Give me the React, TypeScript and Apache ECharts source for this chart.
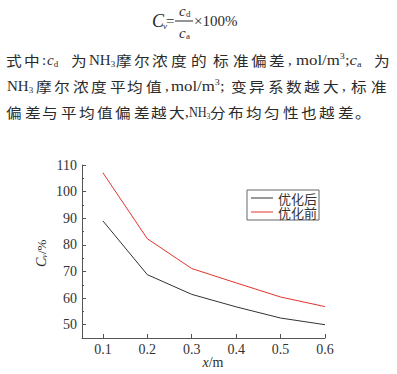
import React, { useEffect, useRef } from 'react';
import * as echarts from 'echarts';

// ---- data ----
const xValues = [0.1, 0.2, 0.3, 0.4, 0.5, 0.6];
const afterValues = [89.0, 68.8, 61.4, 56.7, 52.5, 50.0];
const beforeValues = [107.1, 82.3, 71.1, 65.7, 60.4, 56.8];
const seriesNames = ['优化后', '优化前'];
const seriesColors = ['#333333', '#e3342f'];
const yTickValues = [50, 60, 70, 80, 90, 100, 110];
const yMinorTickValues = [55, 65, 75, 85, 95, 105];

const SERIF = 'Liberation Serif';
const CJK = 'Noto Sans CJK SC';
const TEXT = '#2b2b2b';

// text tokens: [text, x, kind]  c=CJK, l=latin stretched, n=latin normal, m=latin condensed (rich: i=italic, s=sub, p=sup)
type Tok = [string, number, string];
const bodyLine1: Tok[] = [
  ['式', 7, 'c'], ['中', 25, 'c'], [':', 42, 'n'], ['{i|c}{s|d}', 47, 'n'],
  ['为', 72, 'c'], ['NH{s|3}', 89, 'n'], ['摩', 117, 'c'], ['尔', 135, 'c'],
  ['浓', 153, 'c'], ['度', 172, 'c'], ['的', 192, 'c'], ['标', 214, 'c'], ['准', 234, 'c'],
  ['偏', 252, 'c'], ['差', 270, 'c'], [',', 288, 'n'], ['mol/m{p|3};{i|c}{s|a}', 296, 'l'],
  ['为', 375, 'c'],
];
const bodyLine2: Tok[] = [
  ['NH{s|3}', 7, 'n'], ['摩', 37, 'c'], ['尔', 55, 'c'], ['浓', 74, 'c'],
  ['度', 92, 'c'], ['平', 111, 'c'], ['均', 128, 'c'], ['值', 147, 'c'], [',', 165, 'n'],
  ['mol/m{p|3};', 171, 'l'], ['变', 232, 'c'], ['异', 250, 'c'],
  ['系', 269, 'c'], ['数', 287, 'c'], ['越', 305, 'c'], ['大', 324, 'c'], [',', 342, 'n'],
  ['标', 352, 'c'], ['准', 372, 'c'],
];
const bodyLine3: Tok[] = [
  ['偏', 7, 'c'], ['差', 26, 'c'], ['与', 43, 'c'], ['平', 62, 'c'], ['均', 80, 'c'],
  ['值', 98, 'c'], ['偏', 116, 'c'], ['差', 135, 'c'], ['越', 152, 'c'], ['大', 170, 'c'],
  [',', 185, 'n'], ['NH{s|3}', 189, 'm'], ['分', 211, 'c'], ['布', 229, 'c'],
  ['均', 247, 'c'], ['匀', 265, 'c'], ['性', 284, 'c'], ['也', 302, 'c'], ['越', 320, 'c'],
  ['差', 339, 'c'], ['。', 356, 'c'],
];
const bodyLines: [Tok[], number][] = [[bodyLine1, 60], [bodyLine2, 86], [bodyLine3, 112]];

const richLatin = {
  i: { fontFamily: SERIF, fontSize: 15, fontStyle: 'italic', fill: TEXT },
  s: { fontFamily: SERIF, fontSize: 9, fill: TEXT, padding: [8, 0, 0, 0] },
  p: { fontFamily: SERIF, fontSize: 9, fill: TEXT, padding: [0, 0, 8, 0] },
};

function tokenEl(t: string, x: number, kind: string, y: number): any {
  const style: any = { text: t, fill: TEXT, verticalAlign: 'middle', textVerticalAlign: 'middle', align: 'left' };
  let xx = x;
  let sx = 1.12;
  if (kind === 'c') { style.fontFamily = CJK; style.fontSize = 14; xx = x - 1; }
  else {
    style.fontFamily = SERIF;
    style.fontSize = 15;
    style.rich = richLatin;
    if (kind === 'm') sx = 0.82;
    else if (kind !== 'l') sx = 1;
  }
  return { type: 'text', x: xx, y, scaleX: sx, silent: true, style };
}

function buildGraphic(): any[] {
  const els: any[] = [];
  bodyLines.forEach(([toks, y]) => toks.forEach(([t, x, k]) => els.push(tokenEl(t, x, k, y))));
  // formula
  const f = (text: string, x: number, y: number, size: number, italic = false) => ({
    type: 'text', x, y, silent: true,
    style: { text, fill: TEXT, fontFamily: SERIF, fontSize: size, fontStyle: italic ? 'italic' : 'normal', verticalAlign: 'middle', textVerticalAlign: 'middle', align: 'left' },
  });
  els.push(f('C', 152, 21, 18, true));
  els.push(f('v', 163, 26, 9, true));
  els.push(f('=', 166, 21, 15));
  els.push({ type: 'line', silent: true, shape: { x1: 175, y1: 21, x2: 193, y2: 21 }, style: { stroke: TEXT, lineWidth: 1 } });
  els.push(f('c', 179, 11, 15, true));
  els.push(f('d', 186, 14, 9));
  els.push(f('c', 179, 33, 15, true));
  els.push(f('a', 186, 36, 9));
  els.push(f('×100%', 194, 21, 15));
  // y axis name (rotated)
  els.push({
    type: 'group', x: 41, y: 253, rotation: Math.PI / 2, silent: true,
    children: [
      { type: 'text', x: -14, y: 0, style: { text: 'C', fill: TEXT, fontFamily: SERIF, fontSize: 14, fontStyle: 'italic', verticalAlign: 'middle', textVerticalAlign: 'middle' } },
      { type: 'text', x: -5, y: 3, style: { text: 'v', fill: TEXT, fontFamily: SERIF, fontSize: 8, fontStyle: 'italic', verticalAlign: 'middle', textVerticalAlign: 'middle' } },
      { type: 'text', x: -1, y: 0, style: { text: '/%', fill: TEXT, fontFamily: SERIF, fontSize: 13, verticalAlign: 'middle', textVerticalAlign: 'middle' } },
    ],
  });
  // x axis name
  els.push({
    type: 'text', x: 213, y: 362, silent: true,
    style: {
      text: '{i|x}/m', fill: TEXT, fontFamily: SERIF, fontSize: 14, align: 'center', textAlign: 'center',
      verticalAlign: 'middle', textVerticalAlign: 'middle',
      rich: { i: { fontStyle: 'italic', fontFamily: SERIF, fontSize: 14, fill: TEXT } },
    },
  });
  return els;
}

export default function App() {
  const ref = useRef<HTMLDivElement>(null);
  useEffect(() => {
    if (!ref.current) return;
    const chart = echarts.init(ref.current, undefined, { renderer: 'svg' });
    const axisColor = '#555';
    const labelStyle = { fontFamily: SERIF, fontSize: 14, color: '#333' };
    chart.setOption({
      animation: false,
      grid: { left: 82, top: 165, width: 243, height: 173, containLabel: false },
      xAxis: {
        type: 'value', min: 0.053, max: 0.6,
        axisLine: { show: true, lineStyle: { color: axisColor, width: 1 } },
        axisTick: { show: true, inside: true, length: 4, customValues: xValues, lineStyle: { color: axisColor } },
        axisLabel: { ...labelStyle, customValues: xValues, margin: 4, formatter: (v: number) => v.toFixed(1) },
        splitLine: { show: false },
      },
      yAxis: [
        {
          type: 'value', min: 45, max: 110, position: 'left',
          axisLine: { show: true, lineStyle: { color: axisColor, width: 1 } },
          axisTick: { show: true, inside: true, length: 4, customValues: yTickValues, lineStyle: { color: axisColor } },
          axisLabel: { ...labelStyle, customValues: yTickValues, margin: 5 },
          splitLine: { show: false },
        },
        {
          type: 'value', min: 45, max: 110, position: 'left', offset: 0,
          axisLine: { show: false },
          axisTick: { show: true, inside: true, length: 2, customValues: yMinorTickValues, lineStyle: { color: axisColor } },
          axisLabel: { show: false },
          splitLine: { show: false },
        },
      ],
      legend: {
        data: seriesNames.map((n, i) => ({ name: n, icon: 'rect', itemStyle: { color: seriesColors[i] } })),
        orient: 'vertical', left: 247, top: 190,
        itemWidth: 22, itemHeight: 1, itemGap: 0, itemTextGap: 5,
        padding: [1, 2, 1, 4], borderColor: '#666', borderWidth: 1, borderRadius: 0,
        backgroundColor: '#fff',
        textStyle: { fontFamily: CJK, fontSize: 13, lineHeight: 14, color: '#333' },
      },
      series: seriesNames.map((n, si) => ({
        name: n, type: 'line', yAxisIndex: 0, symbol: 'none',
        data: xValues.map((x, i) => [x, (si === 0 ? afterValues : beforeValues)[i]]),
        lineStyle: { color: seriesColors[si], width: 1 }, itemStyle: { color: seriesColors[si] },
      })),
      graphic: buildGraphic(),
    });
    return () => chart.dispose();
  }, []);
  return <div ref={ref} style={{ position: 'fixed', left: 0, top: 0, width: 397, height: 374, background: '#fff' }} />;
}
